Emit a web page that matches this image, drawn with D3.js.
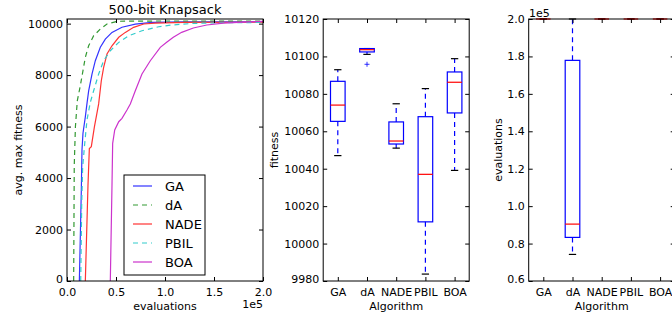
<!DOCTYPE html>
<html lang="en">
<head>
  <meta charset="UTF-8">
  <script src="https://d3js.org/d3.v7.min.js"></script>
  <title>500-bit Knapsack</title>
  <style>
    body { margin: 0; background: #fff; }
    text { font-family: "DejaVu Sans", sans-serif; fill: #000; }
  </style>
</head>
<body>
<script>
  // --- data -------------------------------------------------------------
  const algorithms = ['GA', 'dA', 'NADE', 'PBIL', 'BOA']

  // convergence curves: [evaluations, avg. max fitness]
  const gaCurve = [[12600, 0], [14600, 3500], [15300, 5100], [16300, 5740], [18700, 6380], [20400, 6900],
    [22100, 7390], [25500, 8040], [28900, 8560], [34000, 9080], [39100, 9400], [45900, 9660],
    [56100, 9860], [69700, 9980], [86700, 10050], [120000, 10068], [200000, 10074]]
  const daCurve = [[6800, 0], [7400, 4500], [8600, 6000], [10500, 7000], [13600, 7590], [16000, 8110],
    [18700, 8690], [22100, 9140], [27200, 9530], [34000, 9790], [40800, 9985], [51000, 10090],
    [70000, 10101], [200000, 10103]]
  const nadeCurve = [[18700, 0], [21400, 3700], [22800, 5150], [24800, 5220], [28000, 6000], [32300, 6880],
    [35000, 7780], [37400, 8300], [40800, 8820], [45900, 9140], [52800, 9470], [59500, 9660],
    [68000, 9856], [78300, 9985], [90000, 10023], [120000, 10050], [200000, 10055]]
  const pbilCurve = [[14000, 0], [15000, 3000], [16000, 4440], [18100, 5350], [20400, 6255], [23800, 6943],
    [27200, 7393], [32300, 8042], [37400, 8559], [44200, 8948], [52800, 9273], [63000, 9530],
    [76500, 9724], [93600, 9880], [107000, 9946], [129000, 10010], [160000, 10035], [200000, 10045]]
  const boaCurve = [[44200, 0], [45900, 3690], [46600, 5350], [48700, 5866], [52800, 6189], [56100, 6321],
    [61200, 6643], [64600, 6877], [69700, 7393], [76500, 8042], [85000, 8559], [95200, 9079],
    [101700, 9273], [108500, 9468], [117000, 9662], [128900, 9829], [142600, 9946], [159500, 10023],
    [179900, 10062], [200000, 10085]]
  const curves = [gaCurve, daCurve, nadeCurve, pbilCurve, boaCurve]

  // final fitness box plot stats
  const fitLow = [10047, 10101.1, 10051, 9983.7, 10039.1]
  const fitQ1 = [10065.3, 10102.4, 10053.2, 10011.6, 10069.8]
  const fitMed = [10074, 10103.6, 10054.8, 10037, 10086.2]
  const fitQ3 = [10086.7, 10104.2, 10065, 10067.8, 10091.7]
  const fitHigh = [10092.9, 10104.2, 10074.7, 10082.8, 10098.8]
  const fitOutliers = [[], [10095.8], [], [], []]

  // evaluations box plot stats
  const evLow = [200000, 74200, 200000, 200000, 200000]
  const evQ1 = [200000, 83300, 200000, 200000, 200000]
  const evMed = [200000, 90400, 200000, 200000, 200000]
  const evQ3 = [200000, 177900, 200000, 200000, 200000]
  const evHigh = [200000, 200000, 200000, 200000, 200000]
  const evOutliers = [[], [], [], [], []]

  const curveTicks = [0, 2000, 4000, 6000, 8000, 10000]
  const fitTicks = [9980, 10000, 10020, 10040, 10060, 10080, 10100, 10120]
  const evTicks = [60000, 80000, 100000, 120000, 140000, 160000, 180000, 200000]

  // --- setup ------------------------------------------------------------
  const width = 672
  const height = 318
  const plotTop = 19
  const plotBottom = 281
  const colors = ['#3333ff', '#339933', '#ff3333', '#33cccc', '#cc33cc']
  const dashed = [false, true, false, true, false]

  const svg = d3.select('body').append('svg')
    .attr('width', width)
    .attr('height', height)

  // draws inward ticks on all four sides plus the frame
  function frame(g, x, y, xTicks, xFmt, yTicks, yFmt) {
    const [x0, x1] = x.range()
    g.append('g').attr('transform', `translate(0,${plotBottom})`)
      .call(d3.axisBottom(x).tickValues(xTicks).tickFormat(xFmt).tickSize(-4).tickPadding(7).tickSizeOuter(0))
    g.append('g').attr('transform', `translate(0,${plotTop})`)
      .call(d3.axisTop(x).tickValues(xTicks).tickFormat('').tickSize(-4).tickSizeOuter(0))
    const yAxis = g.append('g').attr('transform', `translate(${x0},0)`)
      .call(d3.axisLeft(y).tickValues(yTicks).tickFormat(yFmt).tickSize(-4).tickPadding(4).tickSizeOuter(0))
    g.append('g').attr('transform', `translate(${x1},0)`)
      .call(d3.axisRight(y).tickValues(yTicks).tickFormat('').tickSize(-4).tickSizeOuter(0))
    g.selectAll('.domain').remove()
    g.selectAll('.tick line').attr('stroke', '#000')
    g.selectAll('.tick text').attr('font-size', 11).attr('font-family', 'DejaVu Sans')
    // lift the lowest y label a touch so it clears the x labels
    yAxis.selectAll('.tick text').filter((d, i) => i === 0).attr('dy', '0.17em')
    g.append('rect')
      .attr('x', x0).attr('y', plotTop)
      .attr('width', x1 - x0).attr('height', plotBottom - plotTop)
      .attr('fill', 'none').attr('stroke', '#000').attr('stroke-width', 1)
  }

  // --- panel 1: curves --------------------------------------------------
  const x1 = d3.scaleLinear().domain([0, 200000]).range([67, 263])
  const y1 = d3.scaleLinear().domain([0, 10180]).range([plotBottom, plotTop])

  svg.append('clipPath').attr('id', 'clip1')
    .append('rect').attr('x', 67).attr('y', plotTop).attr('width', 196).attr('height', plotBottom - plotTop)

  const line = d3.line().x(d => x1(d[0])).y(d => y1(d[1]))
  svg.append('g').attr('clip-path', 'url(#clip1)')
    .selectAll('path')
    .data(curves)
    .enter()
    .append('path')
    .attr('d', line)
    .attr('fill', 'none')
    .attr('stroke', (d, i) => colors[i])
    .attr('stroke-width', 1.2)
    .attr('stroke-dasharray', (d, i) => dashed[i] ? '5,4' : null)

  frame(svg.append('g'), x1, y1, [0, 50000, 100000, 150000, 200000], d => (d / 1e5).toFixed(1),
    curveTicks, d3.format('d'))

  svg.append('text').attr('x', 165).attr('y', 14).attr('text-anchor', 'middle')
    .attr('font-size', 13).text('500-bit Knapsack')
  svg.append('text').attr('x', 165).attr('y', 310).attr('text-anchor', 'middle')
    .attr('font-size', 11).text('evaluations')
  svg.append('text').attr('x', 263).attr('y', 308).attr('text-anchor', 'end')
    .attr('font-size', 11).text('1e5')
  svg.append('text').attr('transform', 'translate(22,150) rotate(-90)').attr('text-anchor', 'middle')
    .attr('font-size', 11).text('avg. max fitness')

  // legend
  const legend = svg.append('g')
  legend.append('rect').attr('x', 124).attr('y', 175).attr('width', 81).attr('height', 100)
    .attr('fill', '#fff').attr('stroke', '#000').attr('stroke-width', 1)
  const items = legend.selectAll('g.item')
    .data(algorithms)
    .enter()
    .append('g')
    .attr('transform', (d, i) => `translate(0,${186 + i * 19})`)
  items.append('line').attr('x1', 133).attr('x2', 152)
    .attr('stroke', (d, i) => colors[i]).attr('stroke-width', 1.2)
    .attr('stroke-dasharray', (d, i) => dashed[i] ? '5,4' : null)
  items.append('text').attr('x', 165).attr('dy', '0.36em').attr('font-size', 13).text(d => d)

  // --- box plot panels --------------------------------------------------
  function boxPanel(left, y, ticks, fmt, low, q1, med, q3, high, outliers, ylabel, ylabelX) {
    const x = d3.scaleLinear().domain([0.5, 5.5]).range([left, left + 146])
    const g = svg.append('g')
    const boxes = g.selectAll('g.box')
      .data(algorithms)
      .enter()
      .append('g')

    // whiskers
    boxes.append('line')
      .attr('x1', (d, i) => x(i + 1)).attr('x2', (d, i) => x(i + 1))
      .attr('y1', (d, i) => y(q3[i])).attr('y2', (d, i) => y(high[i]))
      .attr('stroke', 'blue').attr('stroke-dasharray', '5,4').attr('stroke-width', 1.2)
    boxes.append('line')
      .attr('x1', (d, i) => x(i + 1)).attr('x2', (d, i) => x(i + 1))
      .attr('y1', (d, i) => y(q1[i])).attr('y2', (d, i) => y(low[i]))
      .attr('stroke', 'blue').attr('stroke-dasharray', '5,4').attr('stroke-width', 1.2)
    // caps
    ;[low, high].forEach(arr => {
      boxes.append('line')
        .attr('x1', (d, i) => x(i + 1 - 0.125)).attr('x2', (d, i) => x(i + 1 + 0.125))
        .attr('y1', (d, i) => y(arr[i])).attr('y2', (d, i) => y(arr[i]))
        .attr('stroke', '#000').attr('stroke-width', 1.2)
    })
    // box
    boxes.append('rect')
      .attr('x', (d, i) => x(i + 1 - 0.25))
      .attr('y', (d, i) => y(q3[i]))
      .attr('width', x(1.5) - x(1))
      .attr('height', (d, i) => y(q1[i]) - y(q3[i]))
      .attr('fill', 'none').attr('stroke', 'blue').attr('stroke-width', 1.2)
    // median
    boxes.append('line')
      .attr('x1', (d, i) => x(i + 1 - 0.25)).attr('x2', (d, i) => x(i + 1 + 0.25))
      .attr('y1', (d, i) => y(med[i])).attr('y2', (d, i) => y(med[i]))
      .attr('stroke', 'red').attr('stroke-width', 1.2)
    // fliers
    boxes.each(function (d, i) {
      d3.select(this).selectAll('path.flier')
        .data(outliers[i])
        .enter()
        .append('path')
        .attr('d', v => `M${x(i + 1) - 2.5},${y(v)}H${x(i + 1) + 2.5}M${x(i + 1)},${y(v) - 2.5}V${y(v) + 2.5}`)
        .attr('stroke', 'blue').attr('stroke-width', 0.8)
    })

    frame(g, x, y, [1, 2, 3, 4, 5], d => algorithms[d - 1], ticks, fmt)

    svg.append('text').attr('x', left + 73).attr('y', 310).attr('text-anchor', 'middle')
      .attr('font-size', 11).text('Algorithm')
    svg.append('text').attr('transform', `translate(${ylabelX},150) rotate(-90)`)
      .attr('text-anchor', 'middle').attr('font-size', 11).text(ylabel)
    return x
  }

  const y2 = d3.scaleLinear().domain([9980, 10120]).range([plotBottom, plotTop])
  boxPanel(323.2, y2, fitTicks, d3.format('d'), fitLow, fitQ1, fitMed, fitQ3, fitHigh, fitOutliers, 'fitness', 278)

  const y3 = d3.scaleLinear().domain([60000, 200000]).range([plotBottom, plotTop])
  boxPanel(528.7, y3, evTicks, d => (d / 1e5).toFixed(1), evLow, evQ1, evMed, evQ3, evHigh, evOutliers, 'evaluations', 502)
  svg.append('text').attr('x', 529).attr('y', 16.5).attr('font-size', 11).text('1e5')
</script>
</body>
</html>
